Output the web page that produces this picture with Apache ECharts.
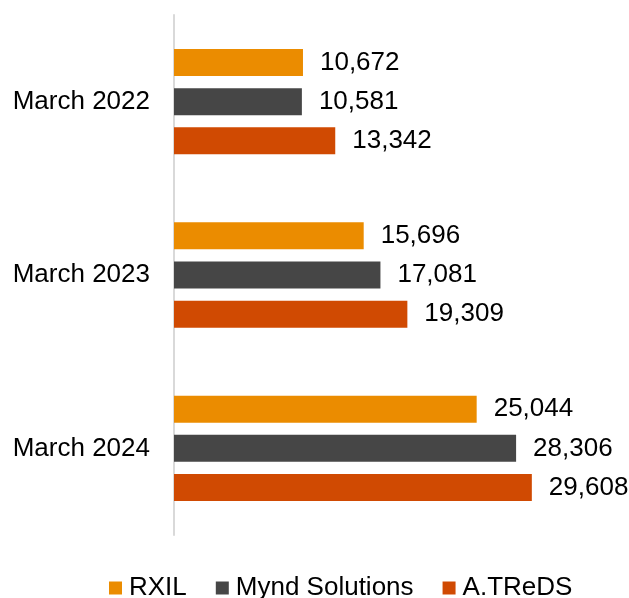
<!DOCTYPE html>
<html>
<head>
<meta charset="utf-8">
<script src="https://cdn.jsdelivr.net/npm/echarts@6/dist/echarts.min.js"></script>
<style>
  html, body { margin: 0; padding: 0; background: #fff; }
  #chart { width: 629px; height: 598px; }
</style>
</head>
<body>
<div id="chart"></div>
<script>
var categories = ['March 2022', 'March 2023', 'March 2024'];
var rxil = [10672, 15696, 25044];
var mynd = [10581, 17081, 28306];
var atreds = [13342, 19309, 29608];

var font = 'Liberation Sans, Arial, sans-serif';

function barSeries(name, data, color) {
    return {
        name: name,
        type: 'bar',
        data: data,
        barWidth: 27,
        barGap: '45%',
        itemStyle: { color: color },
        label: {
            show: true,
            position: 'right',
            distance: 17,
            color: '#000',
            fontSize: 26,
            fontFamily: font,
            formatter: function (p) { return p.value.toLocaleString('en-US'); }
        }
    };
}

var chart = echarts.init(document.getElementById('chart'));
chart.setOption({
    animation: false,
    legend: {
        top: 570,
        left: 104,
        itemWidth: 13,
        itemHeight: 13,
        itemGap: 29,
        icon: 'rect',
        textStyle: { fontSize: 26, fontFamily: font, color: '#000', padding: [0, 0, 0, 2] },
        data: ['RXIL', 'Mynd Solutions', 'A.TReDS']
    },
    grid: { left: 174, right: 32, top: 15, bottom: 63 },
    xAxis: {
        type: 'value',
        min: 0,
        max: 35000,
        show: false
    },
    yAxis: {
        type: 'category',
        data: categories,
        inverse: true,
        axisLine: { show: true, lineStyle: { color: '#d9d9d9', width: 2 } },
        axisTick: { show: false },
        axisLabel: { color: '#000', fontSize: 26, fontFamily: font, margin: 24 }
    },
    series: [
        barSeries('RXIL', rxil, '#eb8c00'),
        barSeries('Mynd Solutions', mynd, '#464646'),
        barSeries('A.TReDS', atreds, '#d04a02')
    ]
});
</script>
</body>
</html>
